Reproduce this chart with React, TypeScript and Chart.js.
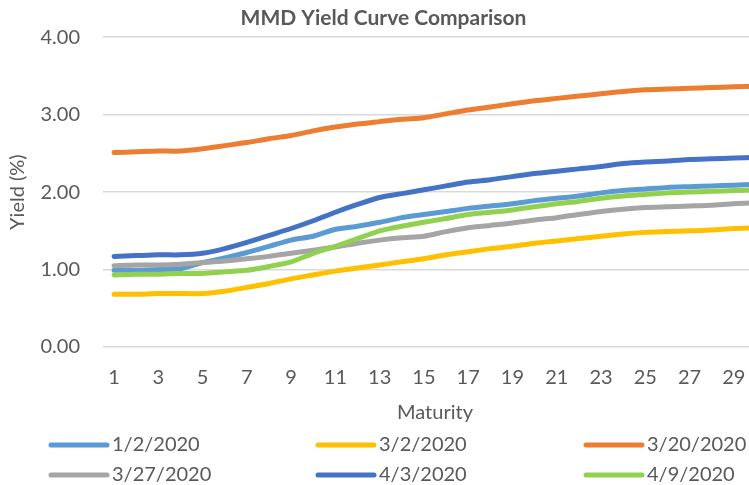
import React, { useEffect, useRef } from "react";
import { Chart, registerables } from "chart.js";

Chart.register(...registerables);

const maturities = [1, 2, 3, 4, 5, 6, 7, 8, 9, 10, 11, 12, 13, 14, 15, 16, 17, 18, 19, 20, 21, 22, 23, 24, 25, 26, 27, 28, 29, 30];

const seriesNames = ["1/2/2020", "3/2/2020", "3/20/2020", "3/27/2020", "4/3/2020", "4/9/2020"];
const seriesColors = ["#5B9BD5", "#FFC000", "#ED7D31", "#A5A5A5", "#4472C4", "#92D050"];

const jan2 = [0.99, 0.99, 1.0, 1.01, 1.09, 1.15, 1.22, 1.3, 1.38, 1.43, 1.52, 1.56, 1.61, 1.67, 1.71, 1.75, 1.79, 1.82, 1.85, 1.89, 1.92, 1.95, 1.99, 2.02, 2.04, 2.06, 2.07, 2.08, 2.09, 2.1];
const mar2 = [0.68, 0.68, 0.69, 0.69, 0.69, 0.72, 0.77, 0.82, 0.88, 0.93, 0.98, 1.02, 1.06, 1.1, 1.14, 1.19, 1.23, 1.27, 1.3, 1.34, 1.37, 1.4, 1.43, 1.46, 1.48, 1.49, 1.5, 1.51, 1.53, 1.54];
const mar20 = [2.51, 2.52, 2.53, 2.53, 2.56, 2.6, 2.64, 2.69, 2.73, 2.79, 2.84, 2.88, 2.91, 2.94, 2.96, 3.01, 3.06, 3.1, 3.14, 3.18, 3.21, 3.24, 3.27, 3.3, 3.32, 3.33, 3.34, 3.35, 3.36, 3.37];
const mar27 = [1.05, 1.06, 1.06, 1.07, 1.09, 1.11, 1.14, 1.17, 1.21, 1.25, 1.29, 1.34, 1.38, 1.41, 1.43, 1.49, 1.54, 1.57, 1.6, 1.64, 1.67, 1.71, 1.75, 1.78, 1.8, 1.81, 1.82, 1.83, 1.85, 1.86];
const apr3 = [1.17, 1.18, 1.19, 1.19, 1.21, 1.27, 1.35, 1.44, 1.53, 1.63, 1.74, 1.84, 1.93, 1.98, 2.03, 2.08, 2.13, 2.16, 2.2, 2.24, 2.27, 2.3, 2.33, 2.37, 2.39, 2.4, 2.42, 2.43, 2.44, 2.45];
const apr9 = [0.93, 0.94, 0.94, 0.95, 0.95, 0.97, 0.99, 1.04, 1.1, 1.21, 1.3, 1.4, 1.5, 1.56, 1.61, 1.66, 1.71, 1.74, 1.77, 1.81, 1.85, 1.88, 1.92, 1.95, 1.97, 1.99, 2.0, 2.01, 2.02, 2.03];

const seriesValues = [jan2, mar2, mar20, mar27, apr3, apr9];

const yTicks = [0, 1, 2, 3, 4];

const FONT = "Lato";
const TEXT = "#595959";

const legendPlugin = {
  id: "gridLegend",
  afterDraw(chart: any) {
    const ctx = chart.ctx;
    const colStarts = [49, 316, 584];
    const rowYs = [445, 475];
    const lineLen = 60;
    ctx.save();
    ctx.font = `20px ${FONT}`;
    ctx.textBaseline = "middle";
    ctx.textAlign = "left";
    chart.data.datasets.forEach((ds: any, i: number) => {
      const col = i % 3;
      const row = Math.floor(i / 3);
      const x = colStarts[col];
      const y = rowYs[row];
      ctx.strokeStyle = ds.borderColor;
      ctx.lineWidth = 5;
      ctx.lineCap = "round";
      ctx.beginPath();
      ctx.moveTo(x + 2, y);
      ctx.lineTo(x + lineLen - 2, y);
      ctx.stroke();
      ctx.fillStyle = TEXT;
      ctx.fillText(ds.label, x + lineLen + 3, y);
    });
    ctx.restore();
  },
};

export default function App() {
  const ref = useRef<HTMLCanvasElement | null>(null);

  useEffect(() => {
    if (!ref.current) return;
    const chart = new Chart(ref.current, {
      type: "line",
      data: {
        labels: maturities.map(String),
        datasets: seriesNames.map((name, i) => ({
          label: name,
          data: seriesValues[i],
          borderColor: seriesColors[i],
          backgroundColor: seriesColors[i],
          borderWidth: 5,
          borderCapStyle: "round",
          borderJoinStyle: "round",
          pointRadius: 0,
          tension: 0.2,
          fill: false,
          order: seriesNames.length - i,
        })),
      },
      options: {
        responsive: false,
        animation: false,
        layout: { padding: { left: 0, right: 43, top: 0, bottom: 60 } },
        plugins: {
          legend: { display: false },
          tooltip: { enabled: false },
          title: {
            display: true,
            text: "MMD Yield Curve Comparison",
            color: TEXT,
            font: { family: FONT, size: 21, weight: "bold" },
            padding: { top: 6, bottom: 6 },
          },
        },
        scales: {
          x: {
            type: "category",
            offset: true,
            grid: { display: false, drawTicks: false },
            border: { display: false },
            ticks: {
              autoSkip: false,
              maxRotation: 0,
              padding: 19,
              color: TEXT,
              font: { family: FONT, size: 20 },
              callback: function (this: any, value: any, index: number) {
                const m = maturities[index];
                return m % 2 === 1 ? String(m) : "";
              },
            },
            title: {
              display: true,
              text: "Maturity",
              color: TEXT,
              font: { family: FONT, size: 20 },
              padding: { top: 0, bottom: 0 },
            },
            afterFit: (scale: any) => {
              scale.height = 78;
            },
          },
          y: {
            min: yTicks[0],
            max: yTicks[yTicks.length - 1],
            grid: { color: "#D9D9D9", lineWidth: 1.5, drawTicks: false },
            border: { display: false },
            ticks: {
              stepSize: 1,
              padding: 23,
              color: TEXT,
              font: { family: FONT, size: 20 },
              callback: (v: any) => Number(v).toFixed(2),
            },
            title: {
              display: true,
              text: "Yield (%)",
              color: TEXT,
              font: { family: FONT, size: 20 },
              padding: { top: 6, bottom: 0 },
            },
            afterFit: (scale: any) => {
              scale.width = 103;
            },
          },
        },
      },
      plugins: [legendPlugin],
    });
    return () => chart.destroy();
  }, []);

  return (
    <div style={{ position: "fixed", left: 0, top: 0, width: 749, height: 485, overflow: "hidden", background: "#fff" }}>
      <canvas ref={ref} width={810} height={485} style={{ width: 810, height: 485, display: "block" }} />
    </div>
  );
}
